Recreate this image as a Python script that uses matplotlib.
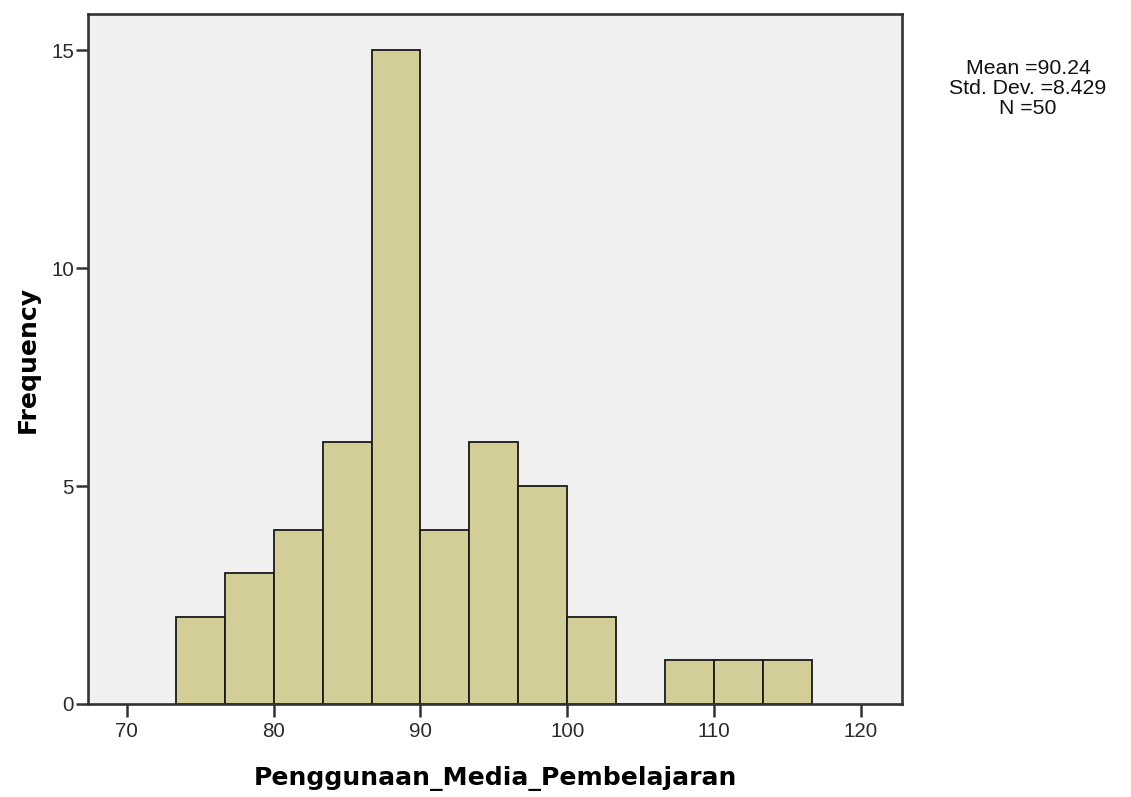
import matplotlib
matplotlib.use("Agg")
import matplotlib.pyplot as plt
import numpy as np

plt.rcParams['font.family'] = ['Liberation Sans', 'DejaVu Sans']

bin_start = 73.333
bin_width = 3.3333
counts = [2, 3, 4, 6, 15, 4, 6, 5, 2, 0, 1, 1, 1]
xticks = [70, 80, 90, 100, 110, 120]
yticks = [0, 5, 10, 15]
stats_text = "Mean =90.24\nStd. Dev. =8.429\nN =50"

edges = bin_start + bin_width * np.arange(len(counts) + 1)

fig = plt.figure(figsize=(11.31, 7.97), dpi=100)
ax = fig.add_axes([0.0778, 0.1167, 0.7197, 0.8657])
ax.set_facecolor('#F0F0F0')
ax.bar(edges[:-1], counts, width=bin_width, align='edge',
       color='#D3CE97', edgecolor='#1a1a1a', linewidth=1.3, zorder=2)
ax.set_xlim(67.35, 122.8)
ax.set_ylim(0, 15.83)
ax.set_xticks(xticks)
ax.set_yticks(yticks)
ax.tick_params(axis='both', labelsize=14.8, length=9, width=1.8, color='#333333', labelcolor='#2a2a2a')
ax.tick_params(axis='y', pad=1)
ax.tick_params(axis='x', pad=4)
for s in ax.spines.values():
    s.set_linewidth(1.9)
    s.set_color('#333333')
ax.set_xlabel('Penggunaan_Media_Pembelajaran', fontsize=18.1, fontweight='bold',
              family='DejaVu Sans', labelpad=18)
ax.set_ylabel('Frequency', fontsize=18.1, fontweight='bold',
              family='DejaVu Sans', labelpad=8)
fig.text(1028/1131, 1 - 59/797, stats_text, ha='center', va='top', fontsize=15.3,
         linespacing=1.08, color='#111111')
fig.savefig('out.png', dpi=100)
